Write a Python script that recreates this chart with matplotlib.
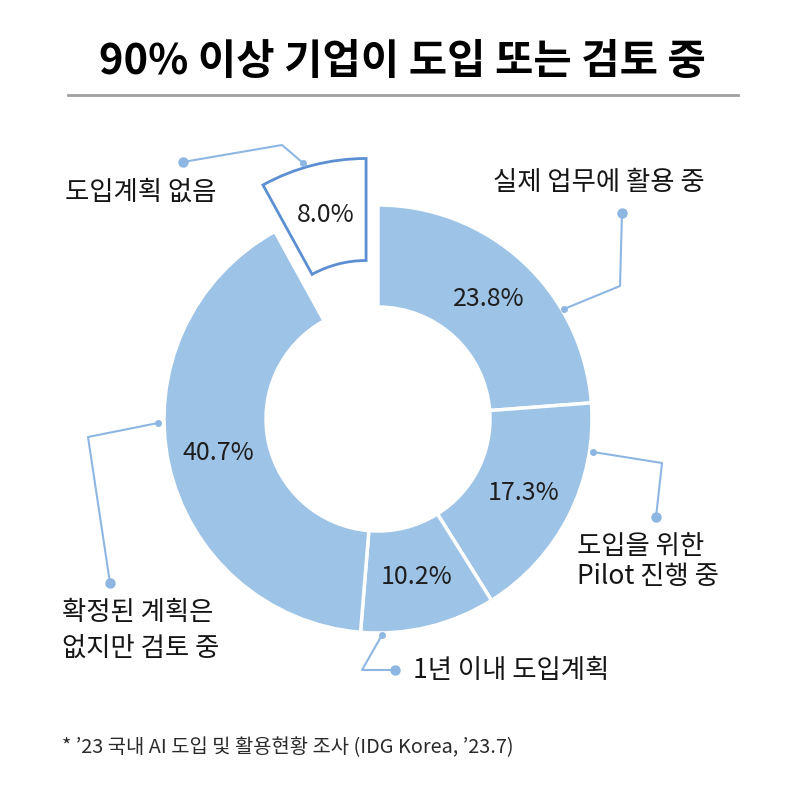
import matplotlib
matplotlib.use("Agg")
import matplotlib.pyplot as plt
import numpy as np

plt.rcParams['font.family'] = ['Noto Sans CJK KR', 'DejaVu Sans']

# data
labels = ['실제 업무에 활용 중', '도입을 위한\nPilot 진행 중', '1년 이내 도입계획',
          '확정된 계획은\n없지만 검토 중', '도입계획 없음']
shares = [23.8, 17.3, 10.2, 40.7, 8.0]
title = '90% 이상 기업이 도입 또는 검토 중'
note = '* \u201923 국내 AI 도입 및 활용현황 조사 (IDG Korea, \u201923.7)'

W, H = 802, 801
fig = plt.figure(figsize=(W / 100, H / 100), dpi=100)
ax = fig.add_axes([0, 0, 1, 1])

blue = '#9dc3e6'
edge_blue = '#5b8fd1'
line_blue = '#8db7e2'

cx, cy = 378, H - 419
R, r_in = 214, 112

# explode is in data units here (pixels)
wedges, _, pcts = ax.pie(
    shares, startangle=90, counterclock=False, radius=R, center=(cx, cy),
    explode=[0, 0, 0, 0, 48],
    colors=[blue] * 4 + ['white'],
    wedgeprops=dict(width=R - r_in, edgecolor='white', linewidth=2.5),
    autopct='%.1f%%', pctdistance=0.762,
    textprops=dict(fontsize=18, color='#1e1e1e'))
wedges[-1].set_edgecolor(edge_blue)
wedges[-1].set_linewidth(2)
wedges[-1].set_zorder(3)
pcts[-1].set_zorder(4)

ax.set_aspect('equal')
ax.set_xlim(0, W)
ax.set_ylim(0, H)
ax.axis('off')


def img(x, y):
    return x, H - y


# leader lines (image pixel coords)
leaders = [
    [(564, 309), (620, 286), (622, 213)],
    [(593, 452), (662, 463), (656, 517)],
    [(382, 635), (362, 670), (395, 670)],
    [(158, 423), (88, 437), (110, 583)],
    [(303, 163), (282, 145), (183, 162)],
]
for pts in leaders:
    xs, ys = zip(*[img(*p) for p in pts])
    ax.plot(xs, ys, color=line_blue, lw=1.5, zorder=4)
    ax.plot(xs[0], ys[0], 'o', color=line_blue, ms=4, zorder=4)
    ax.plot(xs[-1], ys[-1], 'o', color=line_blue, ms=6.5, zorder=4)

# category labels: (left x, first line y, line gap)
label_pos = [(493, 183, 0), (577, 547, 30), (413, 670, 0), (62, 613, 35), (65, 192, 0)]
for lab, (lx, ly, gap) in zip(labels, label_pos):
    for i, line in enumerate(lab.split('\n')):
        ax.text(*img(lx, ly + i * gap), line, fontsize=19, fontweight='medium',
                color='#151515', ha='left', va='center')

ax.text(*img(402, 62), title, fontsize=30, fontweight='bold', color='black',
        ha='center', va='center')
ax.plot(*zip(img(68, 95), img(738, 95)), color='#a0a0a0', lw=2)

ax.text(*img(62, 748), note, fontsize=14.3, color='#2a2a2a', ha='left', va='center')

fig.savefig('out.png', dpi=100, facecolor='white')
